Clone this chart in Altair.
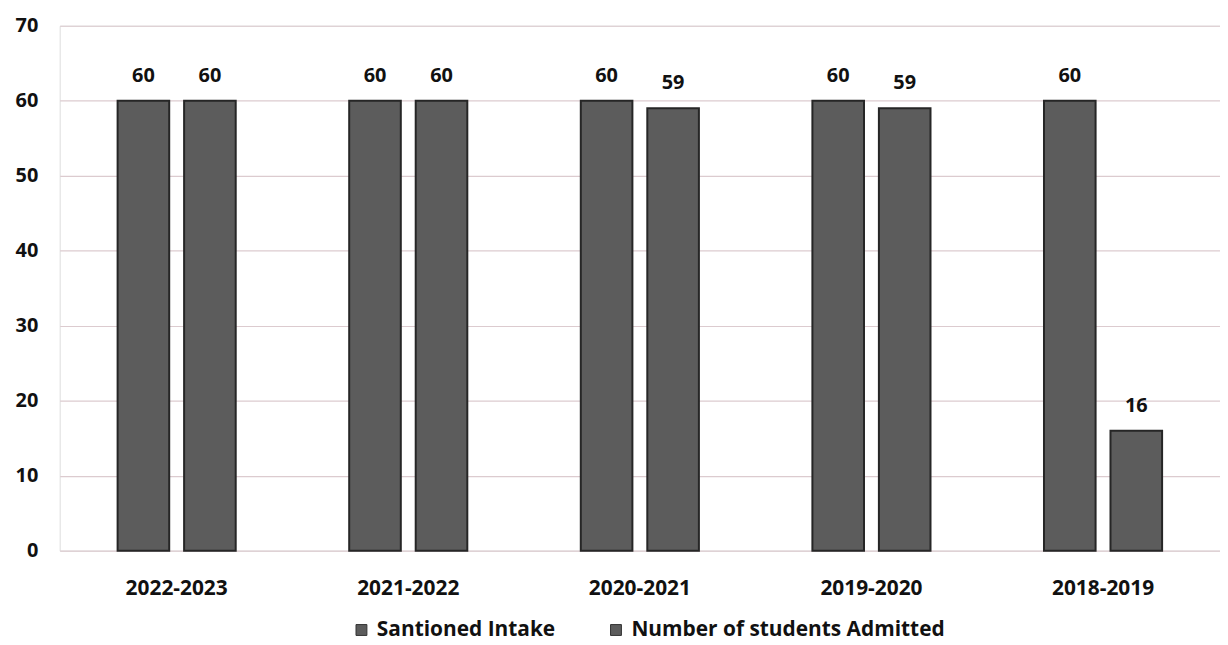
import altair as alt
import pandas as pd

years = ["2022-2023", "2021-2022", "2020-2021", "2019-2020", "2018-2019"]
sanctioned = [60, 60, 60, 60, 60]
admitted = [60, 60, 59, 59, 16]
series = ["Santioned Intake", "Number of students Admitted"]

rows = []
for y, s, a in zip(years, sanctioned, admitted):
    rows.append({"year": y, "series": series[0], "value": s})
    rows.append({"year": y, "series": series[1], "value": a})
df = pd.DataFrame(rows)

FONT = "Open Sans"

x = alt.X("year:N", sort=years, title=None,
          scale=alt.Scale(paddingInner=0.49, paddingOuter=0.25),
          axis=alt.Axis(labelAngle=0, labelFontSize=21, labelFontWeight="bold",
                        labelColor="#111", labelPadding=27, ticks=False, domain=False,
                        labelFont=FONT))
xo = alt.XOffset("series:N", sort=series,
                 scale=alt.Scale(paddingInner=0.224, paddingOuter=0))
y = alt.Y("value:Q", title=None,
          scale=alt.Scale(domain=[0, 70]),
          axis=alt.Axis(values=[0, 10, 20, 30, 40, 50, 60, 70], labelFontSize=20,
                        labelFontWeight="bold", labelColor="#111", labelPadding=22,
                        ticks=False, domain=False, gridColor="#dccbcf", gridWidth=1.2,
                        labelFont=FONT))

base = alt.Chart(df)

bars = base.mark_bar(stroke="#262626", strokeWidth=2).encode(
    x=x, xOffset=xo, y=y,
    color=alt.Color("series:N", sort=series,
                    scale=alt.Scale(domain=series, range=["#5c5c5c", "#5c5c5c"]),
                    legend=alt.Legend(orient="none", legendX=293, legendY=597,
                                      direction="horizontal", title=None,
                                      symbolType="square", symbolSize=120,
                                      symbolStrokeColor="#333", symbolStrokeWidth=1,
                                      labelFontSize=21, labelFontWeight="bold",
                                      labelColor="#111", labelFont=FONT, labelLimit=500,
                                      columnPadding=50, labelOffset=5)),
)

labels = base.mark_text(baseline="bottom", dy=-15, fontSize=20, fontWeight="bold",
                        color="#111", font=FONT).encode(
    x=x, xOffset=xo, y=y, text=alt.Text("value:Q"),
)

chart = alt.layer(bars, labels).properties(
    width=1167, height=528,
    autosize=alt.AutoSizeParams(type="none"),
    padding={"left": 52, "top": 16, "right": 0, "bottom": 93},
).configure_view(stroke=None).configure(background="white")

chart.save("out.html", embed_options={"renderer": "svg", "actions": False})
